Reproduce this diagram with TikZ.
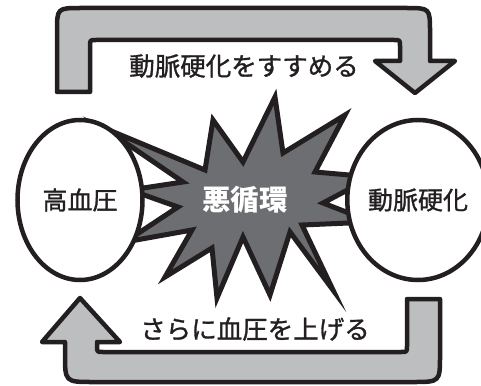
\documentclass[tikz,border=0pt]{standalone}
\usepackage{fontspec}
\newfontfamily\jp[FakeBold=1.2]{Noto Sans CJK JP}
\newfontfamily\jpb{Noto Sans CJK JP}
\usetikzlibrary{shapes.geometric}
\definecolor{ink}{HTML}{231F20}
\definecolor{arrowgray}{HTML}{BCBEC0}
\definecolor{stargray}{HTML}{6D6E71}
\begin{document}
\begin{tikzpicture}[x=1pt,y=-1pt,
  bigarrow/.style={draw=ink, fill=arrowgray, line width=4.5pt, line join=round},
  burst/.style={draw=ink, fill=stargray, line width=5pt, line join=miter, miter limit=20},
  oval/.style={ellipse, draw=ink, fill=white, line width=4.5pt, inner sep=0pt,
    font=\jp\fontsize{25}{25}\selectfont, text=ink},
  lab/.style={font=\jp\fontsize{25.5}{26}\selectfont, text=ink, inner sep=0pt}]
\useasboundingbox (0,0) rectangle (481,385);
% top arrow
\draw[bigarrow] (57,92) -- (57,32) .. controls (57,8) .. (81,8) -- (406,8)
  .. controls (430,8) .. (430,32) -- (430,61) -- (455,61) -- (415,93) -- (375,61)
  -- (400,61) -- (400,46) .. controls (400,40) .. (394,40) -- (96,40)
  .. controls (90,40) .. (90,46) -- (90,92) -- cycle;
% bottom arrow
\draw[bigarrow] (407,299) -- (440,299) -- (440,355) .. controls (440,382) .. (413,382)
  -- (93,382) .. controls (65,382) .. (65,354) -- (65,342) -- (42,342) -- (80,298)
  -- (120,342) -- (97,342) -- (97,346) .. controls (97,352) .. (103,352)
  -- (401,352) .. controls (407,352) .. (407,346) -- cycle;
% burst
\draw[burst] (275,97) -- (283,153) -- (345,115) -- (315,172) -- (372,177)
  -- (323,203) -- (372,222) -- (302,225) -- (333,290) -- (290,232) -- (270,295)
  -- (243,237) -- (217,298) -- (212,248) -- (165,277) -- (192,230) -- (125,242)
  -- (178,207) -- (130,190) -- (183,182) -- (104,128) -- (205,170) -- (213,120)
  -- (243,162) -- cycle;
% ellipses
\node[oval, minimum width=125pt, minimum height=160pt] (hbp) at (80,200) {高血圧};
\node[oval, minimum width=117pt, minimum height=160pt] (as) at (418,200) {動脈硬化};
% labels
\node[font=\jpb\bfseries\fontsize{28.5}{29}\selectfont, text=white, inner sep=0pt] (vc) at (245,200) {悪循環};
\node[lab] (toplab) at (244,66) {動脈硬化をすすめる};
\node[lab] (botlab) at (255,329) {さらに血圧を上げる};
\end{tikzpicture}
\end{document}
